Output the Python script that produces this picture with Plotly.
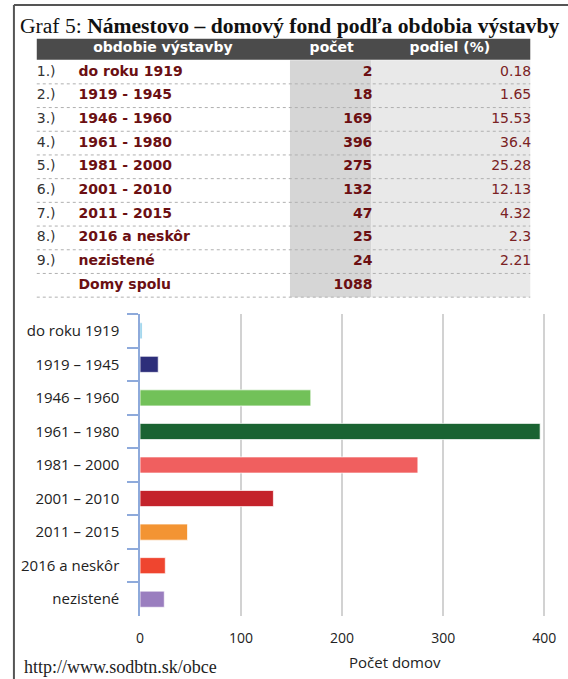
import plotly.graph_objects as go

W, H = 568, 679

# ---------------- data ----------------
row_numbers = ["1.)", "2.)", "3.)", "4.)", "5.)", "6.)", "7.)", "8.)", "9.)"]
table_periods = ["do roku 1919", "1919 - 1945", "1946 - 1960", "1961 - 1980", "1981 - 2000",
                 "2001 - 2010", "2011 - 2015", "2016 a neskôr", "nezistené"]
chart_labels = ["do roku 1919", "1919 – 1945", "1946 – 1960", "1961 – 1980", "1981 – 2000",
                "2001 – 2010", "2011 – 2015", "2016 a neskôr", "nezistené"]
counts = [2, 18, 169, 396, 275, 132, 47, 25, 24]
shares = [0.18, 1.65, 15.53, 36.4, 25.28, 12.13, 4.32, 2.3, 2.21]
total_label = "Domy spolu"
header_labels = ["obdobie výstavby", "počet", "podiel (%)"]
bar_colors = ["#7cc6e6", "#2d2e7a", "#72c159", "#1a6332", "#f05f5f",
              "#c4232b", "#f39433", "#ef452f", "#9a7ebf"]
x_ticks = [0, 100, 200, 300, 400]

title_plain = "Graf 5: "
title_bold = "Námestovo – domový fond podľa obdobia výstavby"
x_title = "Počet domov"
source = "http://www.sodbtn.sk/obce"


def py(px):
    return 1 - px / H


fig = go.Figure()

# ---------------- bar chart ----------------
fig.add_trace(go.Bar(
    x=counts, y=chart_labels, orientation="h",
    marker=dict(color=bar_colors, line=dict(color="rgba(255,255,255,0.7)", width=1)),
    width=0.48, showlegend=False, hoverinfo="x+y",
    xaxis="x", yaxis="y",
))

# ---------------- table (text columns on helper axes) ----------------
n = len(table_periods)
rows = list(range(n))
maroon = "#6b0f12"
tfont = "DejaVu Sans"

fig.add_trace(go.Scatter(
    x=[33] * n, y=rows, text=row_numbers, mode="text", textposition="middle right",
    textfont=dict(family=tfont, size=14, color="#333333"),
    xaxis="x2", yaxis="y2", showlegend=False, hoverinfo="skip"))
fig.add_trace(go.Scatter(
    x=[75] * (n + 1), y=rows + [n], text=table_periods + [total_label], mode="text",
    textposition="middle right",
    textfont=dict(family=tfont, size=14, color=maroon, weight="bold"),
    xaxis="x2", yaxis="y2", showlegend=False, hoverinfo="skip"))
fig.add_trace(go.Scatter(
    x=[371] * (n + 1), y=rows + [n], text=[str(c) for c in counts] + [str(sum(counts))],
    mode="text", textposition="middle left",
    textfont=dict(family=tfont, size=14, color=maroon, weight="bold"),
    xaxis="x2", yaxis="y2", showlegend=False, hoverinfo="skip"))
fig.add_trace(go.Scatter(
    x=[531] * n, y=rows, text=[str(s) for s in shares],
    mode="text", textposition="middle left",
    textfont=dict(family=tfont, size=14, color="#7a2224"),
    xaxis="x2", yaxis="y2", showlegend=False, hoverinfo="skip"))
fig.add_trace(go.Scatter(
    x=[160, 330, 449], y=[-1, -1, -1], text=header_labels, mode="text",
    textposition="middle center",
    textfont=dict(family=tfont, size=14, color="white", weight="bold"),
    xaxis="x2", yaxis="y2", showlegend=False, hoverinfo="skip"))

shapes = []
# column shading
shapes.append(dict(type="rect", xref="x2", yref="y2", x0=288, x1=370, y0=-0.5, y1=n + 0.5,
                   fillcolor="#d6d6d6", line=dict(width=0), layer="below"))
shapes.append(dict(type="rect", xref="x2", yref="y2", x0=370, x1=530, y0=-0.5, y1=n + 0.5,
                   fillcolor="#e9e9e9", line=dict(width=0), layer="below"))
# header bar
shapes.append(dict(type="rect", xref="x2", yref="y2", x0=33, x1=530, y0=-1.40, y1=-0.52,
                   fillcolor="#4b4b4b", line=dict(width=0), layer="below"))
# dotted separators
for i in range(n + 1):
    shapes.append(dict(type="line", xref="x2", yref="y2", x0=33, x1=530, y0=i + 0.5, y1=i + 0.5,
                       line=dict(color="#b0b0b0", width=1, dash="dot"), layer="above"))
# frame
shapes.append(dict(type="line", xref="paper", yref="paper", x0=10 / W, x1=1, y0=py(5), y1=py(5),
                   line=dict(color="#555555", width=2)))
shapes.append(dict(type="line", xref="paper", yref="paper", x0=10 / W, x1=10 / W, y0=py(5), y1=0,
                   line=dict(color="#555555", width=2)))

annotations = [
    dict(text=title_plain + "<b>" + title_bold + "</b>", x=14 / W, y=py(26), xref="paper", yref="paper",
         xanchor="left", yanchor="middle", showarrow=False,
         font=dict(family="Liberation Serif", size=21.6, color="#111111")),
    dict(text=x_title, x=394 / W, y=py(662), xref="paper", yref="paper",
         xanchor="center", yanchor="middle", showarrow=False,
         font=dict(family="Open Sans", size=15, color="#222222")),
    dict(text=source, x=18 / W, y=py(667), xref="paper", yref="paper",
         xanchor="left", yanchor="middle", showarrow=False,
         font=dict(family="Liberation Serif", size=18, color="#222222")),
]

x0_px, x_end_px, px_per_unit = 137, 561, 407 / 400
row_top = 72
row_step = 23.7
fig.update_layout(
    width=W, height=H, margin=dict(l=0, r=0, t=0, b=0),
    paper_bgcolor="white", plot_bgcolor="rgba(0,0,0,0)",
    showlegend=False,
    xaxis=dict(domain=[x0_px / W, x_end_px / W], range=[0, (x_end_px - x0_px) / px_per_unit],
               tickvals=x_ticks, showgrid=True, gridcolor="#d2d2d2", gridwidth=1.5,
               zeroline=False, showline=False, ticks="outside", ticklen=9,
               tickcolor="rgba(0,0,0,0)", fixedrange=True,
               tickfont=dict(family="Open Sans", size=14, color="#222222")),
    yaxis=dict(domain=[py(616), py(314)], type="category", categoryorder="array",
               categoryarray=chart_labels, range=[n - 0.5, -0.5],
               showline=True, linecolor="#8eaadb", linewidth=1.5,
               ticks="outside", tickson="boundaries", ticklen=11, tickcolor="#8eaadb",
               tickwidth=1.5, showgrid=False, zeroline=False, fixedrange=True,
               ticklabelstandoff=16,
               tickfont=dict(family="Open Sans", size=15, color="#222222")),
    xaxis2=dict(domain=[0, 1], range=[0, W], visible=False, fixedrange=True),
    yaxis2=dict(domain=[py(299), py(37)],
                range=[(299 - row_top) / row_step, (37 - row_top) / row_step],
                visible=False, fixedrange=True),
    shapes=shapes, annotations=annotations,
)

fig.write_html("out.html", config={"displayModeBar": False},
               post_script="document.body.style.margin='0';")
